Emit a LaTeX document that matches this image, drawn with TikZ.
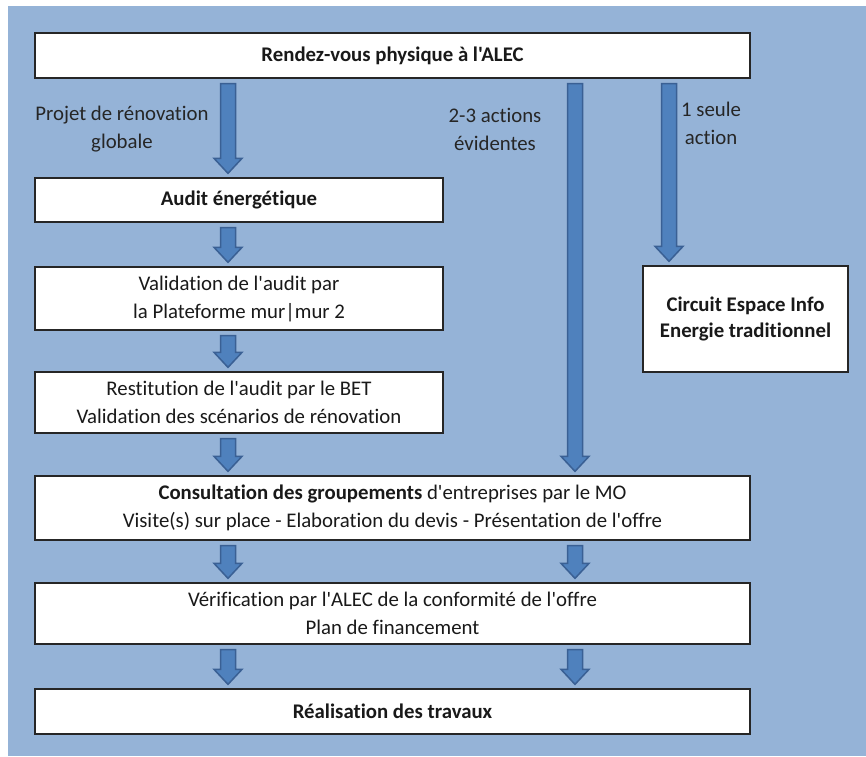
\documentclass[tikz,border=0pt]{standalone}
\usepackage{fontspec}
\setmainfont{Carlito}[Ligatures={TeXOff,NoCommon}]
\usetikzlibrary{calc,positioning}
\definecolor{fond}{HTML}{95B3D7}
\definecolor{flechefill}{HTML}{4F81BD}
\definecolor{flecheline}{HTML}{3A6094}
\definecolor{boxline}{HTML}{262626}
\tikzset{
  etape/.style={draw=boxline, fill=white, line width=1.3pt, align=center,
    inner sep=0pt, text=black!90, font=\fontsize{20.8}{28}\selectfont},
  legende/.style={align=center, text=black!85, font=\fontsize{20.8}{28}\selectfont},
  fleche/.style={draw=flecheline, fill=flechefill, line width=1.5pt,
    to path={let \p1=(\tikztostart), \p2=(\tikztotarget) in
      (\x1-7.5pt,\y1-5pt) -- (\x1+7.5pt,\y1-5pt) -- (\x1+7.5pt,\y2+19pt)
      -- (\x1+14pt,\y2+19pt) -- (\x1,\y2+4pt) -- (\x1-14pt,\y2+19pt)
      -- (\x1-7.5pt,\y2+19pt) -- cycle}},
}

\begin{document}
\begin{tikzpicture}[x=1pt,y=-1pt]
        \useasboundingbox (0,0) rectangle (866,756);
        \fill[fond] (8,6) rectangle (866,756);

        % Columns of the arrows
        \coordinate (colL) at (228,0);
        \coordinate (colM) at (575,0);
        \coordinate (colR) at (669,0);

        % Define boxes by coordinates
        \node[etape, minimum width=715pt, minimum height=45pt] (rdv) at (392.5,55.5) {\textbf{Rendez-vous physique à l'ALEC}};
        \node[etape, minimum width=408pt, minimum height=44pt] (audit) at (239,200) {\textbf{Audit énergétique}};
        \node[etape, minimum width=408pt, minimum height=63pt] (valid) at (239,298.5) {Validation de l'audit par\\la Plateforme mur|mur 2};
        \node[etape, minimum width=408pt, minimum height=61pt] (restit) at (239,402.5) {Restitution de l'audit par le BET\\Validation des scénarios de rénovation};
        \node[etape, minimum width=205pt, minimum height=106pt] (circuit) at (745.5,319) {\textbf{Circuit Espace Info}\\[-2pt]\textbf{Energie traditionnel}};
        \node[etape, minimum width=715pt, minimum height=64pt] (consult) at (392.5,508) {\textbf{Consultation des groupements} d'entreprises par le MO\\Visite(s) sur place - Elaboration du devis - Présentation de l'offre};
        \node[etape, minimum width=715pt, minimum height=61pt] (verif) at (392.5,613.5) {Vérification par l'ALEC de la conformité de l'offre\\Plan de financement};
        \node[etape, minimum width=715pt, minimum height=45pt] (realis) at (392.5,711.5) {\textbf{Réalisation des travaux}};

        % Labels
        \node[legende] (projet) at (122,129) {Projet de rénovation\\globale};
        \node[legende] (evid) at (495,129) {2-3 actions\\évidentes};
        \node[legende] (seule) at (711,123) {1 seule\\action};

        % Draw arrows
        \draw[fleche] (rdv.south -| colL) to (audit.north -| colL);
        \draw[fleche] (rdv.south -| colM) to (consult.north -| colM);
        \draw[fleche] (rdv.south -| colR) to (circuit.north -| colR);
        \draw[fleche] (audit.south -| colL) to (valid.north -| colL);
        \draw[fleche] (valid.south -| colL) to (restit.north -| colL);
        \draw[fleche] (restit.south -| colL) to (consult.north -| colL);
        \draw[fleche] (consult.south -| colL) to (verif.north -| colL);
        \draw[fleche] (consult.south -| colM) to (verif.north -| colM);
        \draw[fleche] (verif.south -| colL) to (realis.north -| colL);
        \draw[fleche] (verif.south -| colM) to (realis.north -| colM);

\end{tikzpicture}
\end{document}
